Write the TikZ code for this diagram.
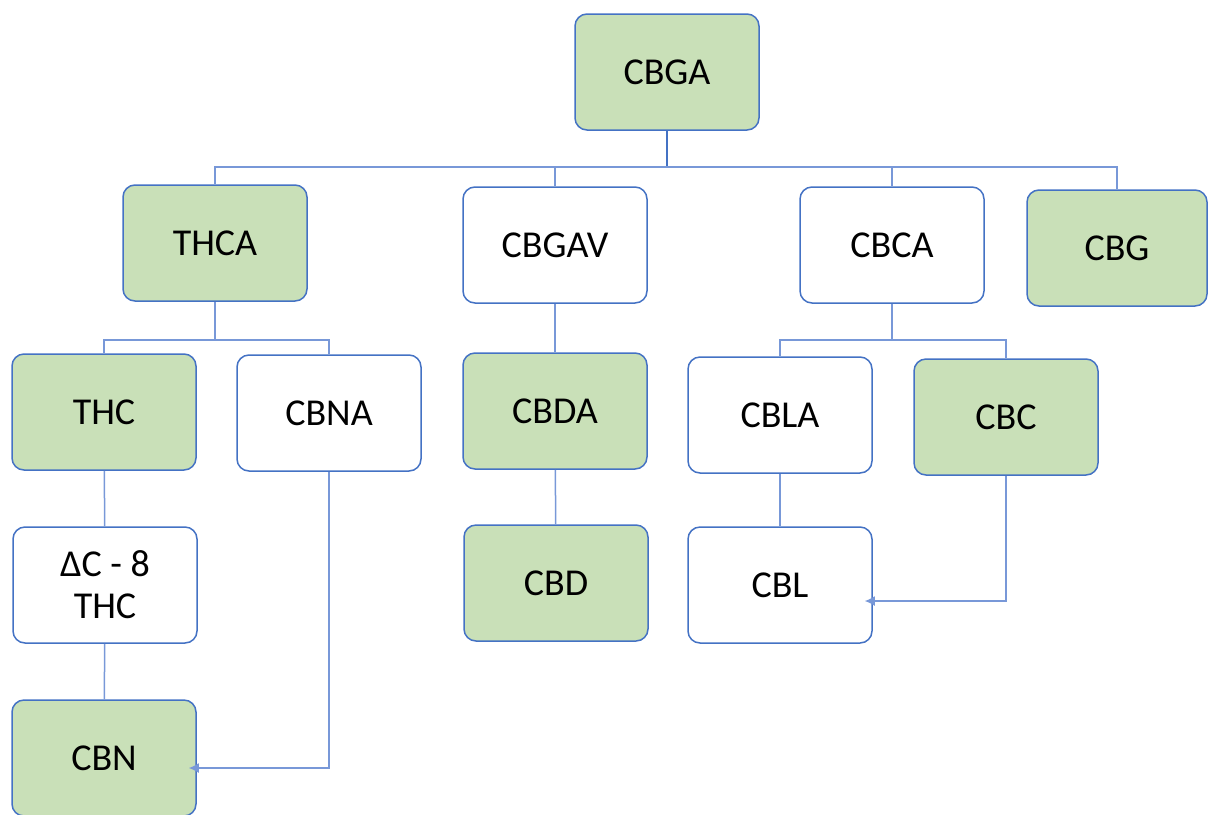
\documentclass[tikz,border=0pt]{standalone}
\usepackage{fontspec}
\setmainfont{Carlito}
\usetikzlibrary{arrows.meta}
\definecolor{boxline}{RGB}{68,114,196}
\definecolor{linkline}{RGB}{120,152,216}
\definecolor{leaf}{RGB}{201,224,184}
\tikzset{
  chem/.style={draw=boxline, line width=0.75pt, rounded corners=6pt, fill=white,
    minimum width=92pt, minimum height=58pt, align=center, inner sep=0pt,
    font=\fontsize{19}{21}\selectfont},
  final/.style={chem, fill=leaf},
  link/.style={draw=linkline, line width=0.75pt},
  tolink/.style={link, -{Latex[length=5pt,width=5pt]}, shorten >=-4pt}
}
\begin{document}
\begin{tikzpicture}[x=0.5pt, y=-0.5pt]
      \useasboundingbox (0,0) rectangle (1208,814);

      \node[final] (cbga) at (667,72) {CBGA};

      \node[final] (thca) at (215,243) {THCA};
      \node[chem] (cbgav) at (555,245) {CBGAV};
      \node[chem] (cbca) at (892,245) {CBCA};
      \node[final, minimum width=90pt] (cbg) at (1117,248) {CBG};

      \node[final] (thc) at (104,412) {THC};
      \node[chem] (cbna) at (329,413) {CBNA};
      \node[final] (cbda) at (555,411) {CBDA};
      \node[chem] (cbla) at (780,415) {CBLA};
      \node[final] (cbc) at (1006,417) {CBC};

      \node[chem] (delta) at (105,585) {ΔC - 8\\THC};
      \node[final] (cbd) at (556,583) {CBD};
      \node[chem] (cbl) at (780,585) {CBL};

      \node[final] (cbn) at (104,758) {CBN};

      \draw[link, draw=boxline] (cbga.south) -- (667,167);
      \foreach \n in {thca,cbgav,cbca,cbg}
        \draw[link] (667,167) -| (\n.north);

      \draw[link] (thca.south) -- (215,340);
      \foreach \n in {thc,cbna}
        \draw[link] (215,340) -| (\n.north);

      \draw[link] (cbca.south) -- (892,340);
      \foreach \n in {cbla,cbc}
        \draw[link] (892,340) -| (\n.north);

      \draw[link] (cbgav) -- (cbda);
      \draw[link] (cbda) -- (cbd);
      \draw[link] (cbla) -- (cbl);
      \draw[link] (thc) -- (delta);
      \draw[link] (delta) -- (cbn);

      \draw[tolink] (cbna.south) |- (cbn.east |- 0,768);
      \draw[tolink] (cbc.south) |- (cbl.east |- 0,601);
\end{tikzpicture}
\end{document}
